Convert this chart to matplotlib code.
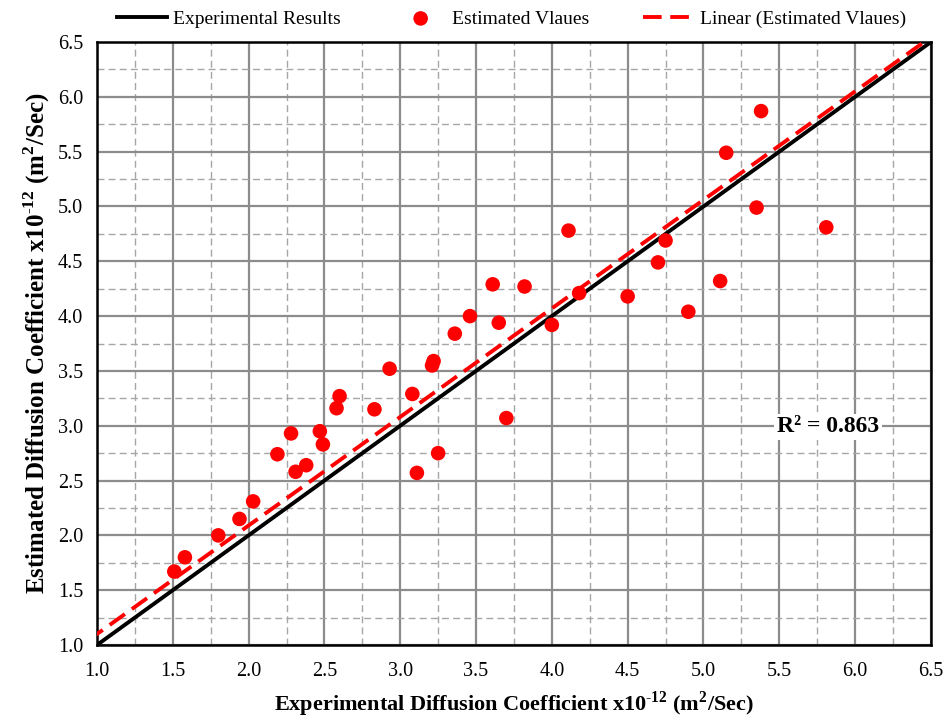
import numpy as np
import matplotlib
matplotlib.use("Agg")
from matplotlib import pyplot as plt
from matplotlib.ticker import MultipleLocator

# Experimental vs estimated diffusion coefficients (x10^-12 m^2/s)
experimental = [1.51, 1.58, 1.80, 1.94, 2.03, 2.19, 2.28, 2.31, 2.38, 2.47,
                2.49, 2.58, 2.60, 2.83, 2.93, 3.08, 3.11, 3.21, 3.22, 3.25,
                3.36, 3.46, 3.61, 3.65, 3.70, 3.82, 4.00, 4.11, 4.18, 4.50,
                4.70, 4.75, 4.90, 5.11, 5.15, 5.35, 5.38, 5.81]
estimated = [1.67, 1.80, 2.00, 2.15, 2.31, 2.74, 2.93, 2.58, 2.64, 2.95,
             2.83, 3.16, 3.27, 3.15, 3.52, 3.29, 2.57, 3.55, 3.59, 2.75,
             3.84, 4.00, 4.29, 3.94, 3.07, 4.27, 3.92, 4.78, 4.21, 4.18,
             4.49, 4.69, 4.04, 4.32, 5.49, 4.99, 5.87, 4.81]
axis_limits = [1.0, 6.5]

# Trendline as drawn on the chart
trend_slope = 0.99
trend_intercept = 0.11
r_squared_label = "R² = 0.863"


def main():
    plt.rcParams['font.family'] = ['Liberation Serif', 'DejaVu Serif']
    plt.rcParams['mathtext.fontset'] = 'custom'
    plt.rcParams['mathtext.rm'] = 'Liberation Serif'
    plt.rcParams['mathtext.bf'] = 'Liberation Serif:bold'

    fig = plt.figure(figsize=(9.47, 7.21), dpi=100)
    ax = fig.add_axes([0.1024, 0.1054, 0.8806, 0.8363])

    # Grid: solid majors every 0.5, dashed minors every 0.25
    ax.xaxis.set_major_locator(MultipleLocator(0.5))
    ax.yaxis.set_major_locator(MultipleLocator(0.5))
    ax.xaxis.set_minor_locator(MultipleLocator(0.25))
    ax.yaxis.set_minor_locator(MultipleLocator(0.25))
    ax.grid(which='major', color='#8c8c8c', linewidth=1.6, linestyle='-')
    ax.grid(which='minor', color='#a6a6a6', linewidth=1.0, linestyle=(0, (5, 3)))
    ax.set_axisbelow(True)

    # Line of equality (experimental results)
    ax.plot(axis_limits, axis_limits, color='black', linewidth=2.8,
            label='Experimental Results', zorder=3)

    # Estimated values
    ax.scatter(experimental, estimated, s=110, color='#ff0000', edgecolors='none',
               label='Estimated Vlaues', zorder=4)

    # Linear trendline of estimated values
    x_fit = np.array([0.5, 7.0])
    ax.plot(x_fit, trend_slope * x_fit + trend_intercept, color='#ff0000',
            linewidth=2.8, linestyle=(0, (4.8, 2.2)),
            label='Linear (Estimated Vlaues)', zorder=3)

    ax.set_xlim(axis_limits)
    ax.set_ylim(axis_limits)
    ax.tick_params(which='both', length=0, labelsize=14.5)
    ax.tick_params(axis='x', pad=12)
    ax.tick_params(axis='y', pad=10)
    ax.set_xticklabels([f"{v:.1f}" for v in ax.get_xticks()])
    ax.set_yticklabels([f"{v:.1f}" for v in ax.get_yticks()])
    for spine in ax.spines.values():
        spine.set_linewidth(1.8)
        spine.set_color('black')

    sup_12 = r'$^{\mathbf{\text{-}12}}$'
    sup_2 = r'$^{\mathbf{2}}$'
    ax.set_xlabel('Experimental Diffusion Coefficient x10' + sup_12 + ' (m' + sup_2 + '/Sec)',
                  fontsize=16, fontweight='bold', labelpad=6)
    ax.set_ylabel('Estimated Diffusion Coefficient x10' + sup_12 + ' (m' + sup_2 + '/Sec)',
                  fontsize=18, fontweight='bold', labelpad=4)

    ax.text(5.82, 2.99, r_squared_label, fontsize=17, fontweight='bold',
            ha='center', va='center', zorder=5,
            bbox=dict(facecolor='white', edgecolor='none', pad=2))

    fig.legend(loc='center', bbox_to_anchor=(0.54, 0.974), ncol=3, frameon=False,
               fontsize=14, handlelength=2.6, columnspacing=2.8, handletextpad=0.3)

    fig.savefig('out.png', dpi=100)
    return 0


if __name__ == "__main__":
    main()
